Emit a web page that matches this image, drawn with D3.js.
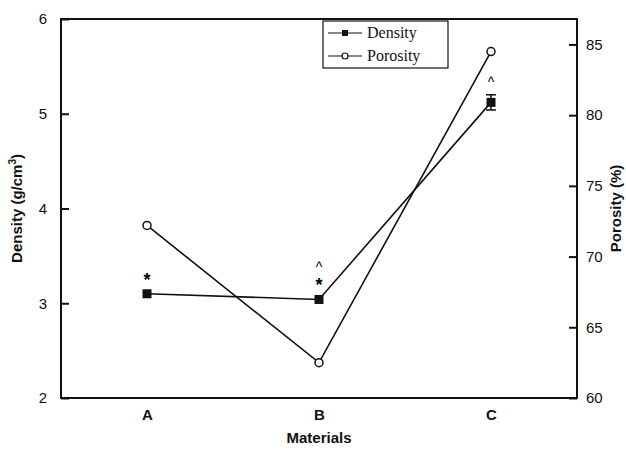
<!DOCTYPE html>
<html>
<head>
<meta charset="utf-8">
<script src="https://cdn.jsdelivr.net/npm/d3@7"></script>
<style>
  body { margin: 0; background: #fff; }
  svg { display: block; }
  .tick text { font-family: "Liberation Sans", Arial, sans-serif; font-size: 15px; fill: #111; }
  .title { font-family: "Liberation Sans", Arial, sans-serif; font-size: 15px; font-weight: bold; fill: #111; }
  .legend text { font-family: "Liberation Serif", "Times New Roman", serif; font-size: 16px; fill: #111; }
</style>
</head>
<body>
<div id="chart"></div>
<script>
var materials = ["A", "B", "C"];
var density = [3.10, 3.04, 5.12];
var densityErr = [0.03, 0.03, 0.08];
var porosity = [72.2, 62.5, 84.5];
var densityMarks = ["*", "*", ""];
var porosityMarks = ["", "^", "^"];
var densityTicks = [2, 3, 4, 5, 6];
var porosityTicks = [60, 65, 70, 75, 80, 85];

var W = 626, H = 453;
var pLeft = 61, pRight = 577, pTop = 19, pBottom = 398;

var svg = d3.select("#chart").append("svg")
  .attr("width", W)
  .attr("height", H);

var x = d3.scalePoint().domain(materials).range([pLeft, pRight]).padding(0.5);
var yL = d3.scaleLinear().domain([2, 6]).range([pBottom, pTop]);
var yR = d3.scaleLinear().domain([60, 86.8]).range([pBottom, pTop]);

// frame
svg.append("rect")
  .attr("x", pLeft).attr("y", pTop)
  .attr("width", pRight - pLeft).attr("height", pBottom - pTop)
  .attr("fill", "none").attr("stroke", "#111").attr("stroke-width", 2);

// left axis, ticks inside
var axL = svg.append("g")
  .attr("transform", "translate(" + pLeft + ",0)")
  .call(d3.axisLeft(yL).tickValues(densityTicks).tickFormat(d3.format("d"))
    .tickSizeInner(-8).tickSizeOuter(0).tickPadding(14));
axL.select(".domain").remove();
axL.selectAll(".tick line").attr("stroke", "#111").attr("stroke-width", 2);

// right axis, ticks inside
var axR = svg.append("g")
  .attr("transform", "translate(" + pRight + ",0)")
  .call(d3.axisRight(yR).tickValues(porosityTicks).tickSizeInner(-8).tickSizeOuter(0).tickPadding(9));
axR.select(".domain").remove();
axR.selectAll(".tick line").attr("stroke", "#111").attr("stroke-width", 2);

// bottom axis, labels only
var axB = svg.append("g")
  .attr("transform", "translate(0," + pBottom + ")")
  .call(d3.axisBottom(x).tickSize(0).tickPadding(11));
axB.select(".domain").remove();
axB.selectAll(".tick text").style("font-weight", "bold").style("font-size", "15px");

// titles
var tl = svg.append("text").attr("class", "title")
  .attr("transform", "translate(22," + (pTop + pBottom) / 2 + ") rotate(-90)")
  .attr("text-anchor", "middle");
tl.append("tspan").text("Density (g/cm");
tl.append("tspan").attr("dy", -6).style("font-size", "10px").text("3");
tl.append("tspan").attr("dy", 6).text(")");

svg.append("text").attr("class", "title")
  .attr("transform", "translate(621," + (pTop + pBottom) / 2 + ") rotate(-90)")
  .attr("text-anchor", "middle")
  .text("Porosity (%)");

svg.append("text").attr("class", "title")
  .attr("x", (pLeft + pRight) / 2).attr("y", 443)
  .attr("text-anchor", "middle")
  .text("Materials");

// lines
var dLine = d3.line().x(function(d, i) { return x(materials[i]); }).y(function(d) { return yL(d); });
var pLine = d3.line().x(function(d, i) { return x(materials[i]); }).y(function(d) { return yR(d); });

svg.append("path").datum(density).attr("d", dLine)
  .attr("fill", "none").attr("stroke", "#111").attr("stroke-width", 1.6);
svg.append("path").datum(porosity).attr("d", pLine)
  .attr("fill", "none").attr("stroke", "#111").attr("stroke-width", 1.6);

// error bars (only the visible one on C has caps)
density.forEach(function(d, i) {
  if (densityErr[i] < 0.05) return;
  var cx = x(materials[i]);
  var g = svg.append("g").attr("stroke", "#111").attr("stroke-width", 1.5);
  g.append("line").attr("x1", cx).attr("x2", cx)
    .attr("y1", yL(d + densityErr[i])).attr("y2", yL(d - densityErr[i]));
  [d + densityErr[i], d - densityErr[i]].forEach(function(v) {
    g.append("line").attr("x1", cx - 5).attr("x2", cx + 5).attr("y1", yL(v)).attr("y2", yL(v));
  });
});

// markers
svg.append("g").selectAll("rect").data(density).enter().append("rect")
  .attr("x", function(d, i) { return x(materials[i]) - 4.5; })
  .attr("y", function(d) { return yL(d) - 4.5; })
  .attr("width", 9).attr("height", 9)
  .attr("fill", "#111");

svg.append("g").selectAll("circle").data(porosity).enter().append("circle")
  .attr("cx", function(d, i) { return x(materials[i]); })
  .attr("cy", function(d) { return yR(d); })
  .attr("r", 4)
  .attr("fill", "#fff").attr("stroke", "#111").attr("stroke-width", 1.5);

// significance marks
svg.append("g").selectAll("text").data(density).enter().append("text")
  .attr("x", function(d, i) { return x(materials[i]); })
  .attr("y", function(d, i) { return yL(d) - 8; })
  .attr("text-anchor", "middle")
  .style("font-family", "Liberation Sans, Arial, sans-serif")
  .style("font-size", "18px").style("font-weight", "bold")
  .text(function(d, i) { return densityMarks[i]; });

svg.append("g").selectAll("text").data(density).enter().append("text")
  .attr("x", function(d, i) { return x(materials[i]); })
  .attr("y", function(d, i) { return yL(d + densityErr[i]) - (densityMarks[i] ? 25 : 8); })
  .attr("text-anchor", "middle")
  .style("font-family", "Liberation Sans, Arial, sans-serif")
  .style("font-size", "14px")
  .text(function(d, i) { return porosityMarks[i]; });

// legend
var lg = svg.append("g").attr("class", "legend");
lg.append("rect").attr("x", 323).attr("y", 21).attr("width", 125).attr("height", 47)
  .attr("fill", "#fff").attr("stroke", "#111").attr("stroke-width", 1.2);
var items = [{name: "Density", y: 33}, {name: "Porosity", y: 56}];
items.forEach(function(it, i) {
  lg.append("line").attr("x1", 328).attr("x2", 362).attr("y1", it.y).attr("y2", it.y)
    .attr("stroke", "#111").attr("stroke-width", 1.2);
  if (i === 0) {
    lg.append("rect").attr("x", 342).attr("y", it.y - 3).attr("width", 6).attr("height", 6).attr("fill", "#111");
  } else {
    lg.append("circle").attr("cx", 345).attr("cy", it.y).attr("r", 3)
      .attr("fill", "#fff").attr("stroke", "#111").attr("stroke-width", 1.2);
  }
  lg.append("text").attr("x", 367).attr("y", it.y + 5).text(it.name);
});
</script>
</body>
</html>
